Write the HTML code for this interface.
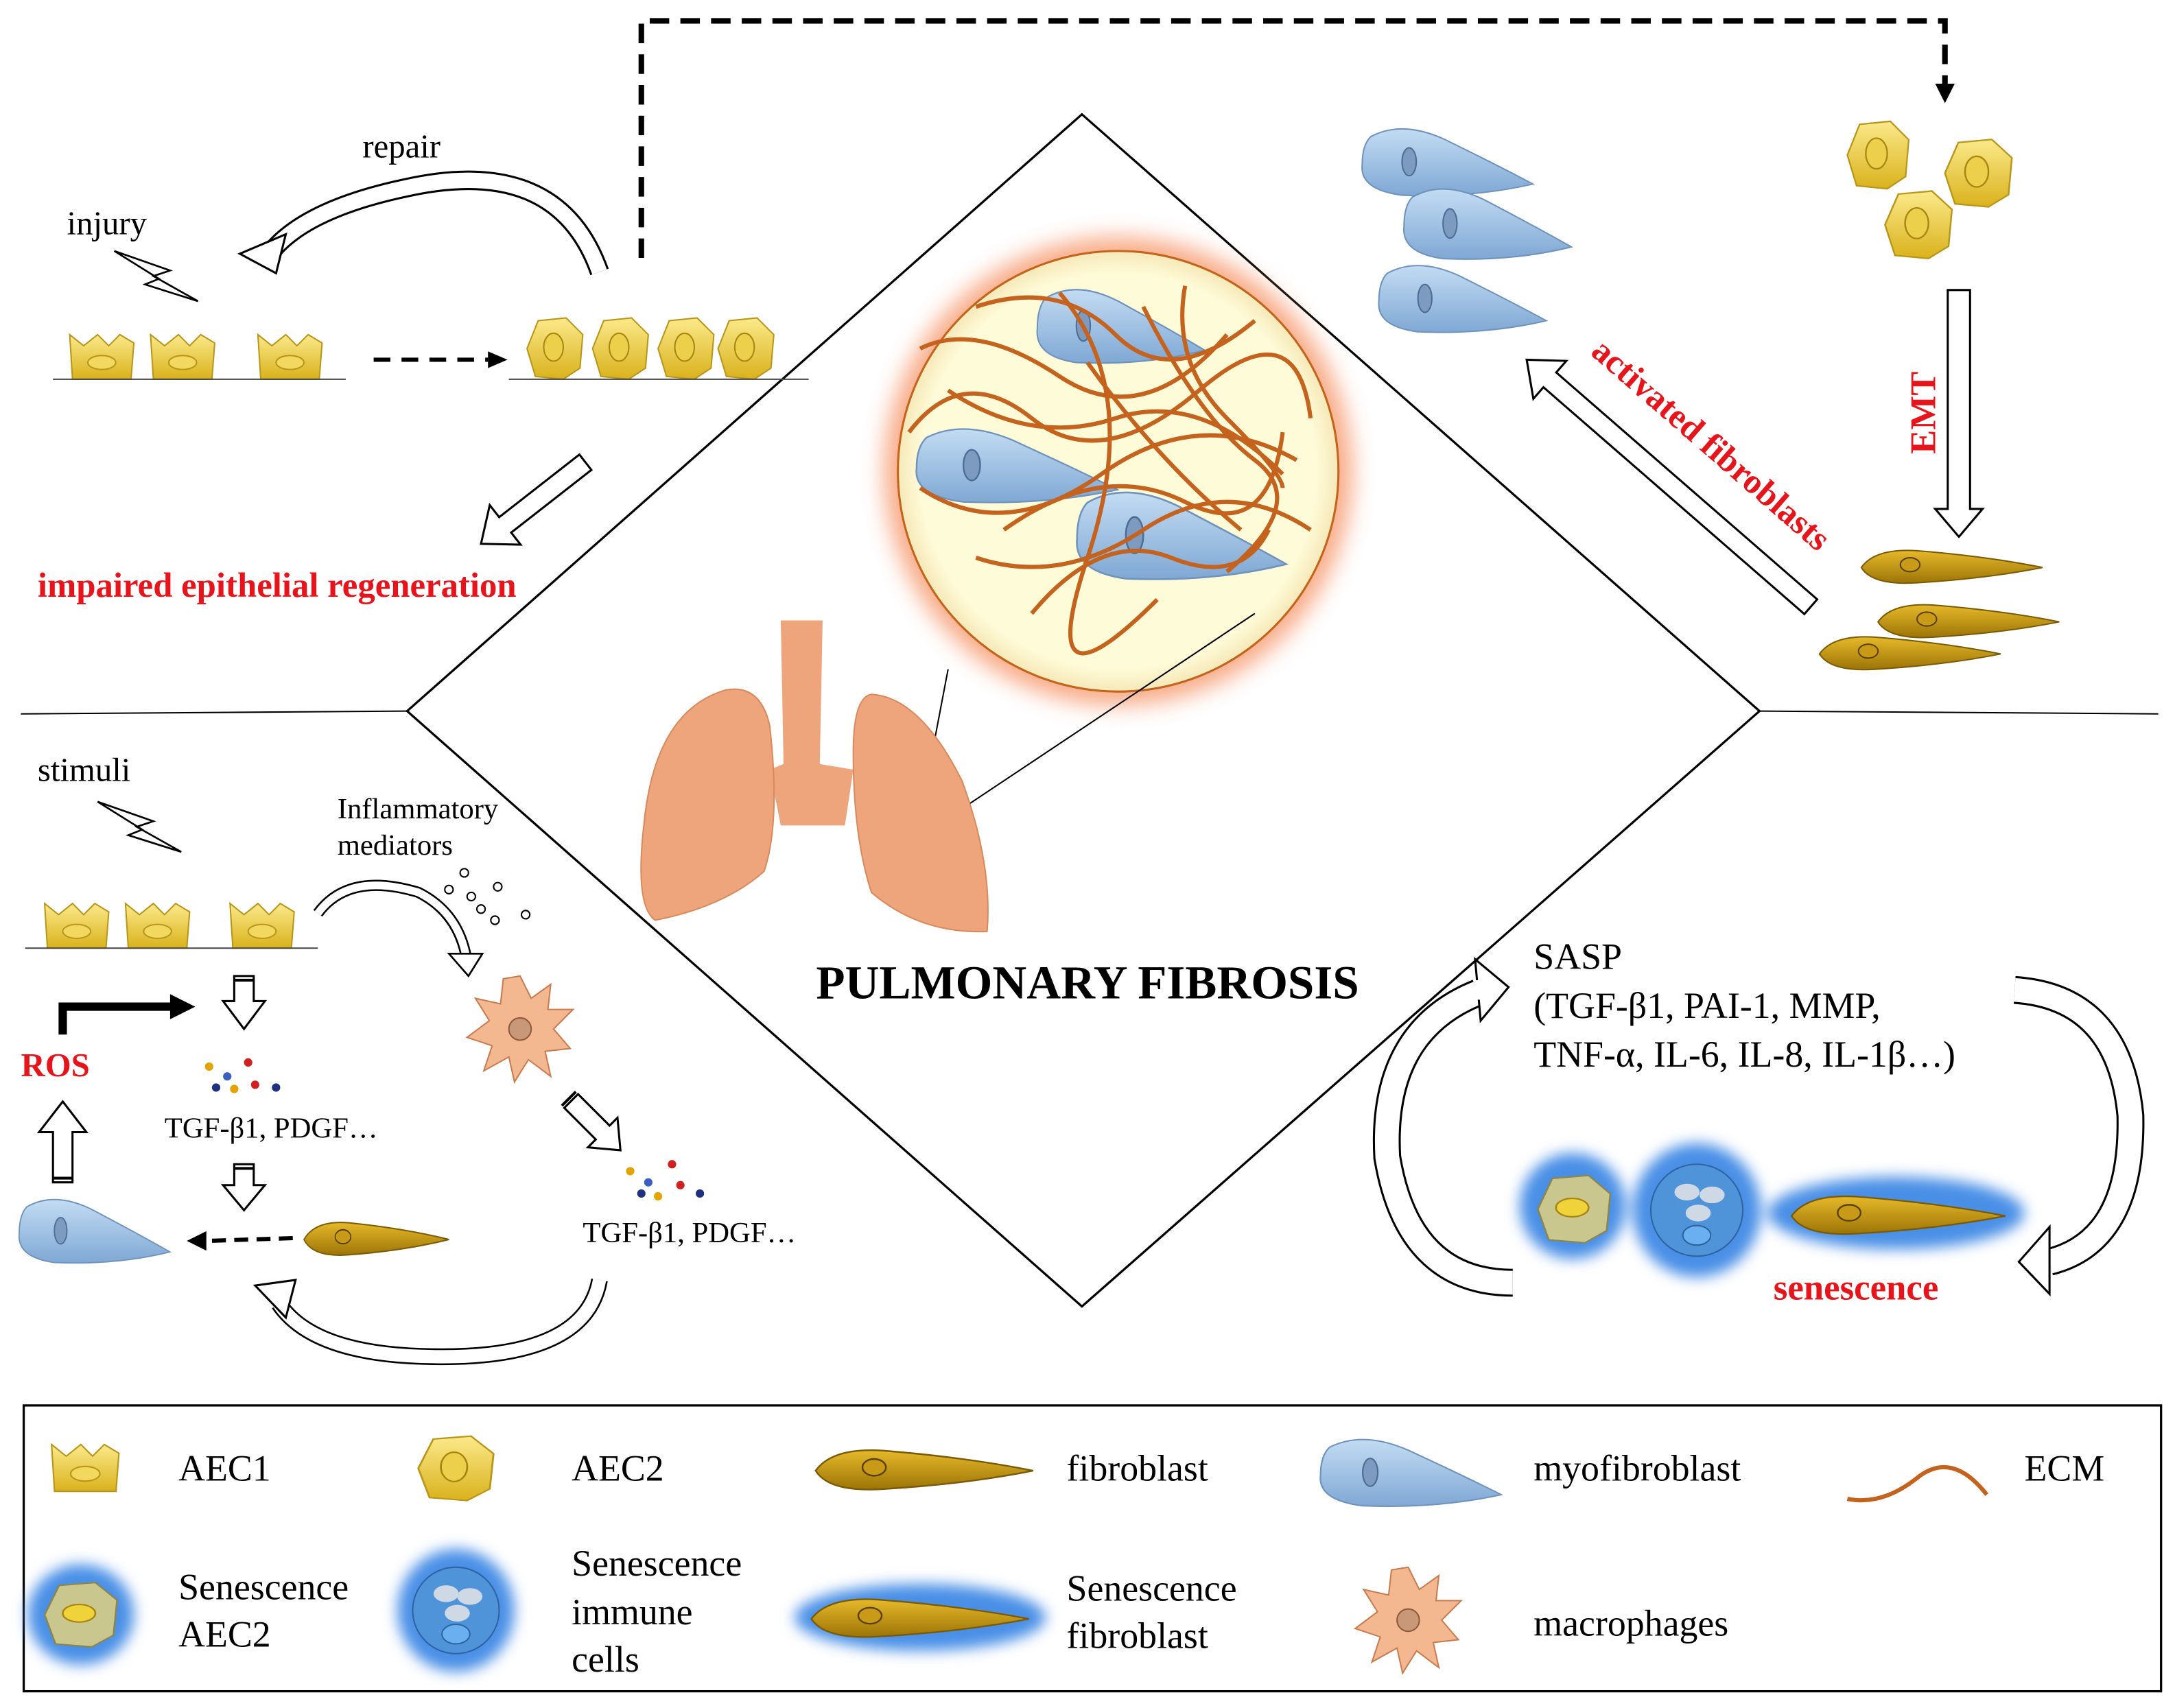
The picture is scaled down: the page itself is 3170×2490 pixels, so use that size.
<!DOCTYPE html>
<html><head><meta charset="utf-8"><style>
html,body{margin:0;padding:0;background:#fff}
svg{display:block}
text{font-family:"Liberation Serif",serif}
</style></head><body>
<svg width="3170" height="2490" viewBox="0 0 1560 1225" preserveAspectRatio="none" xmlns="http://www.w3.org/2000/svg">
<defs>
<linearGradient id="yel" x1="0" y1="0" x2="0" y2="1"><stop offset="0" stop-color="#fbe98a"/><stop offset="1" stop-color="#d9b21c"/></linearGradient>
<linearGradient id="gold" x1="0" y1="0" x2="0" y2="1"><stop offset="0" stop-color="#e6b92a"/><stop offset="1" stop-color="#9c7406"/></linearGradient>
<linearGradient id="blu" x1="0" y1="0" x2="0" y2="1"><stop offset="0" stop-color="#c3dcf3"/><stop offset="1" stop-color="#7fa8d4"/></linearGradient>
<radialGradient id="cream" cx="0.5" cy="0.5" r="0.5"><stop offset="0.9" stop-color="#fefbd8"/><stop offset="1" stop-color="#f6e8b8"/></radialGradient>
<filter id="blur" x="-50%" y="-50%" width="200%" height="200%"><feGaussianBlur stdDeviation="8"/></filter>
<filter id="blur2" x="-50%" y="-50%" width="200%" height="200%"><feGaussianBlur stdDeviation="5"/></filter>
<g id="aec1"><path d="M0,0 L10,8 L20,0 L28,8 L36,0 L46,6 L44,32 L2,32 Z" fill="url(#yel)" stroke="#b8961a" stroke-width="1"/><ellipse cx="23" cy="20" rx="10" ry="5" fill="#f3d860" stroke="#b8961a"/></g>
<g id="aec2"><path d="M8,2 L28,0 L40,12 L38,36 L26,44 L6,42 L0,22 Z" fill="url(#yel)" stroke="#b8961a"/><ellipse cx="19" cy="21" rx="7" ry="10" fill="#eccf4a" stroke="#a88612"/></g>
<g id="fib"><path d="M0,14 Q10,0 40,2 Q90,6 130,14 Q90,22 40,25 Q8,27 0,14 Z" fill="url(#gold)" stroke="#7a5a04"/><ellipse cx="35" cy="12" rx="7" ry="5" fill="#c99a18" stroke="#5a4003"/></g>
<g id="myo"><path d="M8,8 Q30,-4 60,10 Q100,30 122,42 Q80,52 30,50 Q0,46 2,28 Q2,14 8,8 Z" fill="url(#blu)" stroke="#6f93bd"/><ellipse cx="35" cy="26" rx="5" ry="10" fill="#7d9bc0" stroke="#4e6d94"/></g>
<g id="mac"><path d="M0,-38 L8,-22 L22,-32 L20,-14 L38,-14 L24,0 L36,14 L18,16 L22,34 L6,22 L-4,38 L-8,20 L-26,30 L-20,12 L-38,6 L-22,-6 L-32,-22 L-14,-18 L-12,-36 Z" fill="#f4b890" stroke="#c97b50"/><circle cx="0" cy="0" r="8" fill="#c89878" stroke="#8a5a3a"/></g>
<g id="bolt"><path d="M0,0 L40,14 L28,18 L60,36 L22,24 L32,20 L0,0 Z" fill="#fff" stroke="#000" stroke-width="1.3"/></g>
</defs>

<polygon points="776,82 1262,510 776,937 292,510" fill="none" stroke="#000" stroke-width="1.6"/>
<line x1="15" y1="512" x2="292" y2="510" stroke="#000" stroke-width="1"/>
<line x1="1262" y1="510" x2="1548" y2="512" stroke="#000" stroke-width="1"/>
<path d="M460,185 L460,15 L1395,15 L1395,62" fill="none" stroke="#000" stroke-width="4" stroke-dasharray="14,8"/>
<polygon points="1388,60 1402,60 1395,74" fill="#000"/>

<circle cx="802" cy="338" r="168" fill="#f7a27a" filter="url(#blur)" opacity="0.9"/>
<circle cx="802" cy="338" r="158" fill="url(#cream)" stroke="#c4631a" stroke-width="1.5"/>
<line x1="660" y1="585" x2="680" y2="480" stroke="#000" stroke-width="1"/>
<line x1="672" y1="592" x2="900" y2="440" stroke="#000" stroke-width="1"/>
<use href="#myo" transform="translate(742,205) scale(1.0,1.1)"/>
<use href="#myo" transform="translate(655,305) scale(1.2,1.1)"/>
<use href="#myo" transform="translate(770,350) scale(1.25,1.3)"/>
<g fill="none" stroke="#c4621e" stroke-width="3">
<path d="M660,250 Q700,230 760,270 T880,240"/>
<path d="M652,310 Q690,260 740,300 T860,280 T940,300"/>
<path d="M700,220 Q760,200 800,240 T900,230"/>
<path d="M660,350 Q720,390 790,340 T930,330"/>
<path d="M700,400 Q760,420 820,380 T940,380"/>
<path d="M760,210 Q820,280 780,400 T830,430"/>
<path d="M820,220 Q860,300 900,330 T880,410"/>
<path d="M680,280 Q740,320 800,300 Q860,280 920,340"/>
<path d="M720,380 Q790,330 850,360 T920,310"/>
<path d="M780,260 Q830,330 890,380"/>
<path d="M740,440 Q790,380 840,400 T910,380"/>
<path d="M850,205 Q840,260 880,300 T920,350"/>
</g>

<path d="M560,445 L590,445 L588,548 L612,552 L606,592 L560,592 L552,552 L562,548 Z" fill="#eea57c"/>
<path d="M520,495 Q470,510 462,590 Q455,650 470,660 Q520,650 548,625 Q560,590 552,520 Q545,490 520,495 Z" fill="#eea57c" stroke="#d98a5c"/>
<path d="M625,498 Q660,500 690,560 Q712,620 708,668 Q660,670 625,640 Q612,600 612,540 Q612,500 625,498 Z" fill="#eea57c" stroke="#d98a5c"/>
<text x="780" y="716" font-size="34" font-weight="bold" text-anchor="middle">PULMONARY FIBROSIS</text>

<text x="48" y="168" font-size="24">injury</text>
<text x="260" y="113" font-size="24">repair</text>
<use href="#bolt" transform="translate(82,180)"/>
<use href="#aec1" transform="translate(50,240)"/><use href="#aec1" transform="translate(108,240)"/><use href="#aec1" transform="translate(185,240)"/>
<line x1="38" y1="272" x2="248" y2="272" stroke="#444" stroke-width="1"/>
<line x1="268" y1="258" x2="350" y2="258" stroke="#000" stroke-width="3" stroke-dasharray="12,8"/>
<polygon points="350,252 364,258 350,264" fill="#000"/>
<use href="#aec2" transform="translate(378,228)"/><use href="#aec2" transform="translate(425,228)"/><use href="#aec2" transform="translate(472,228)"/><use href="#aec2" transform="translate(515,228)"/>
<line x1="365" y1="272" x2="580" y2="272" stroke="#444" stroke-width="1"/>
<path d="M430,195 Q400,110 290,135 Q220,150 195,180" fill="none" stroke="#000" stroke-width="14"/>
<path d="M430,195 Q400,110 290,135 Q220,150 195,180" fill="none" stroke="#fff" stroke-width="11"/>
<polygon points="172,182 205,168 198,196" fill="#fff" stroke="#000" stroke-width="1.5"/>
<g transform="translate(345,390) rotate(-38)"><polygon points="0,0 22,-18 22,-7 95,-7 95,7 22,7 22,18" fill="#fff" stroke="#000" stroke-width="1.5"/></g>
<text x="27" y="428" font-size="25" font-weight="bold" fill="#e8141c">impaired epithelial regeneration</text>

<use href="#myo" transform="translate(975,90) scale(1.02,1)"/>
<use href="#myo" transform="translate(1005,133) scale(1.0,1.05)"/>
<use href="#myo" transform="translate(987,188) scale(1.0,1.0)"/>
<use href="#aec2" transform="translate(1325,87) scale(1.1,1.1)"/>
<use href="#aec2" transform="translate(1395,100) scale(1.2,1.1)"/>
<use href="#aec2" transform="translate(1352,137) scale(1.2,1.1)"/>
<polygon points="1397,208 1413,208 1413,365 1422,365 1405,385 1388,365 1397,365" fill="#fff" stroke="#000" stroke-width="1.5"/>
<text transform="translate(1388,296) rotate(-90)" font-size="26" font-weight="bold" fill="#e8141c" text-anchor="middle">EMT</text>
<use href="#fib" transform="translate(1335,393)"/>
<use href="#fib" transform="translate(1347,432)"/>
<use href="#fib" transform="translate(1305,455)"/>
<g transform="translate(1095,258) rotate(41)"><polygon points="0,0 22,-18 22,-7 270,-7 270,7 22,7 22,18" fill="#fff" stroke="#000" stroke-width="1.5"/></g>
<text transform="translate(1222,325) rotate(41)" font-size="25" font-weight="bold" fill="#e8141c" text-anchor="middle">activated fibroblasts</text>

<text x="27" y="560" font-size="24">stimuli</text>
<use href="#bolt" transform="translate(70,575)"/>
<use href="#aec1" transform="translate(32,648)"/><use href="#aec1" transform="translate(90,648)"/><use href="#aec1" transform="translate(165,648)"/>
<line x1="18" y1="680" x2="228" y2="680" stroke="#444" stroke-width="1"/>
<text x="242" y="587" font-size="21">Inflammatory</text>
<text x="242" y="613" font-size="21">mediators</text>
<g fill="#fff" stroke="#000" stroke-width="1"><circle cx="333" cy="626" r="3"/><circle cx="357" cy="636" r="3"/><circle cx="322" cy="638" r="3"/><circle cx="338" cy="643" r="3"/><circle cx="345" cy="652" r="3"/><circle cx="377" cy="656" r="3"/><circle cx="355" cy="660" r="3"/></g>
<path d="M228,655 Q250,625 300,640 Q330,655 335,690" fill="none" stroke="#000" stroke-width="8"/>
<path d="M228,655 Q250,625 300,640 Q330,655 335,690" fill="none" stroke="#fff" stroke-width="5.5"/>
<polygon points="322,684 346,684 336,700" fill="#fff" stroke="#000" stroke-width="1.3"/>
<use href="#mac" transform="translate(373,738)"/>
<polygon points="168,700 182,700 182,718 190,718 175,738 160,718 168,718" fill="#fff" stroke="#000" stroke-width="1.5"/>
<line x1="168" y1="703" x2="182" y2="703" stroke="#000" stroke-width="2"/>
<polygon points="168,835 182,835 182,850 190,850 175,868 160,850 168,850" fill="#fff" stroke="#000" stroke-width="1.5"/>
<line x1="168" y1="838" x2="182" y2="838" stroke="#000" stroke-width="2"/>
<path d="M45,742 L45,722 L125,722" fill="none" stroke="#000" stroke-width="6"/>
<polygon points="122,713 140,722 122,731" fill="#000"/>
<text x="15" y="772" font-size="24" font-weight="bold" fill="#e8141c">ROS</text>
<polygon points="38,848 52,848 52,812 62,812 45,790 28,812 38,812" fill="#fff" stroke="#000" stroke-width="1.5"/>
<line x1="38" y1="845" x2="52" y2="845" stroke="#000" stroke-width="2"/>
<g><circle cx="150" cy="765" r="3" fill="#e3a300"/><circle cx="163" cy="772" r="3" fill="#3a5fc0"/><circle cx="178" cy="762" r="3" fill="#d02020"/><circle cx="155" cy="780" r="3" fill="#203080"/><circle cx="183" cy="778" r="3" fill="#d02020"/><circle cx="198" cy="780" r="3" fill="#203080"/><circle cx="168" cy="781" r="3" fill="#e3a300"/></g>
<text x="118" y="816" font-size="21">TGF-β1, PDGF…</text>
<use href="#myo" transform="translate(12,858) scale(0.9,0.95)"/>
<use href="#fib" transform="translate(218,875) scale(0.8,1)"/>
<line x1="210" y1="888" x2="148" y2="890" stroke="#000" stroke-width="3" stroke-dasharray="10,6"/>
<polygon points="148,883 134,890 148,897" fill="#000"/>
<g transform="translate(445,825) rotate(-135)"><polygon points="0,0 18,-15 18,-7 50,-7 50,7 18,7 18,15" fill="#fff" stroke="#000" stroke-width="1.5"/></g>
<line x1="403" y1="793" x2="413" y2="783" stroke="#000" stroke-width="2"/>
<g><circle cx="452" cy="840" r="3" fill="#e3a300"/><circle cx="465" cy="848" r="3" fill="#3a5fc0"/><circle cx="482" cy="835" r="3" fill="#d02020"/><circle cx="460" cy="856" r="3" fill="#203080"/><circle cx="488" cy="850" r="3" fill="#d02020"/><circle cx="502" cy="856" r="3" fill="#203080"/><circle cx="472" cy="858" r="3" fill="#e3a300"/></g>
<text x="418" y="891" font-size="21">TGF-β1, PDGF…</text>
<path d="M430,918 Q420,975 310,973 Q225,972 200,935" fill="none" stroke="#000" stroke-width="12"/>
<path d="M430,918 Q420,975 310,973 Q225,972 200,935" fill="none" stroke="#fff" stroke-width="9.5"/>
<polygon points="183,922 212,918 205,945" fill="#fff" stroke="#000" stroke-width="1.5"/>

<text x="1100" y="695" font-size="26.5">SASP</text>
<text x="1100" y="730" font-size="26.5">(TGF-β1, PAI-1, MMP,</text>
<text x="1100" y="765" font-size="26.5">TNF-α, IL-6, IL-8, IL-1β…)</text>
<path d="M1085,920 Q1010,920 995,830 Q990,740 1060,712" fill="none" stroke="#000" stroke-width="20"/>
<path d="M1085,920 Q1010,920 995,830 Q990,740 1060,712" fill="none" stroke="#fff" stroke-width="17"/>
<polygon points="1058,688 1082,708 1062,732" fill="#fff" stroke="#000" stroke-width="1.5"/>
<line x1="1060" y1="703" x2="1060" y2="717" stroke="#fff" stroke-width="4"/>
<path d="M1445,710 Q1520,715 1528,800 Q1530,890 1470,905" fill="none" stroke="#000" stroke-width="20"/>
<path d="M1445,710 Q1520,715 1528,800 Q1530,890 1470,905" fill="none" stroke="#fff" stroke-width="17"/>
<polygon points="1470,880 1448,905 1470,928" fill="#fff" stroke="#000" stroke-width="1.5"/>
<g filter="url(#blur2)"><ellipse cx="1128" cy="865" rx="38" ry="38" fill="#4a8fe6"/><ellipse cx="1217" cy="868" rx="46" ry="48" fill="#4a8fe6"/><ellipse cx="1360" cy="870" rx="92" ry="26" fill="#4a8fe6"/></g>
<g transform="translate(1103,843) scale(1.3,1.1)"><path d="M8,2 L28,0 L40,12 L38,36 L26,44 L6,42 L0,22 Z" fill="#c9c68e" stroke="#8a8650"/><ellipse cx="19" cy="21" rx="9" ry="6" fill="#f0d33a" stroke="#a88612"/></g>
<circle cx="1217" cy="868" r="33" fill="#4f93d8" stroke="#2e62a0"/>
<ellipse cx="1210" cy="855" rx="9" ry="6" fill="#cfd9e6"/><ellipse cx="1228" cy="857" rx="9" ry="6" fill="#cfd9e6"/><ellipse cx="1218" cy="870" rx="9" ry="6" fill="#cfd9e6"/><ellipse cx="1217" cy="886" rx="10" ry="7" fill="#6ab0f0" stroke="#2e62a0"/>
<use href="#fib" transform="translate(1285,856) scale(1.18,1.15)"/>
<text x="1272" y="932" font-size="26" font-weight="bold" fill="#e8141c">senescence</text>

<rect x="17" y="1008" width="1533" height="205" fill="none" stroke="#000" stroke-width="1.6"/>
<use href="#aec1" transform="translate(37,1036) scale(1.05,1.05)"/>
<text x="128" y="1062" font-size="26.5">AEC1</text>
<use href="#aec2" transform="translate(300,1030) scale(1.35,1.05)"/>
<text x="410" y="1062" font-size="26.5">AEC2</text>
<use href="#fib" transform="translate(585,1038) scale(1.2,1.2)"/>
<text x="765" y="1062" font-size="26.5">fibroblast</text>
<use href="#myo" transform="translate(945,1030) scale(1.08,1.0)"/>
<text x="1100" y="1062" font-size="26.5">myofibroblast</text>
<path d="M1325,1075 Q1350,1080 1375,1060 Q1400,1040 1425,1072" fill="none" stroke="#c4621e" stroke-width="3"/>
<text x="1452" y="1062" font-size="26.5">ECM</text>
<g filter="url(#blur2)"><ellipse cx="58" cy="1158" rx="38" ry="36" fill="#4a8fe6"/><ellipse cx="327" cy="1155" rx="42" ry="44" fill="#4a8fe6"/><ellipse cx="660" cy="1160" rx="90" ry="24" fill="#4a8fe6"/></g>
<g transform="translate(32,1135) scale(1.3,1.05)"><path d="M8,2 L28,0 L40,12 L38,36 L26,44 L6,42 L0,22 Z" fill="#c9c68e" stroke="#8a8650"/><ellipse cx="19" cy="21" rx="9" ry="6" fill="#f0d33a" stroke="#a88612"/></g>
<circle cx="327" cy="1155" r="31" fill="#4f93d8" stroke="#2e62a0"/>
<ellipse cx="320" cy="1143" rx="9" ry="6" fill="#cfd9e6"/><ellipse cx="337" cy="1145" rx="9" ry="6" fill="#cfd9e6"/><ellipse cx="328" cy="1157" rx="9" ry="6" fill="#cfd9e6"/><ellipse cx="327" cy="1172" rx="10" ry="7" fill="#6ab0f0" stroke="#2e62a0"/>
<text x="128" y="1147" font-size="26.5">Senescence</text>
<text x="128" y="1181" font-size="26.5">AEC2</text>
<text x="410" y="1130" font-size="26.5">Senescence</text>
<text x="410" y="1165" font-size="26.5">immune</text>
<text x="410" y="1199" font-size="26.5">cells</text>
<use href="#fib" transform="translate(582,1145) scale(1.2,1.15)"/>
<text x="765" y="1148" font-size="26.5">Senescence</text>
<text x="765" y="1182" font-size="26.5">fibroblast</text>
<use href="#mac" transform="translate(1010,1162) scale(1.0,1.0)"/>
<text x="1100" y="1173" font-size="26.5">macrophages</text>
</svg>
</body></html>
